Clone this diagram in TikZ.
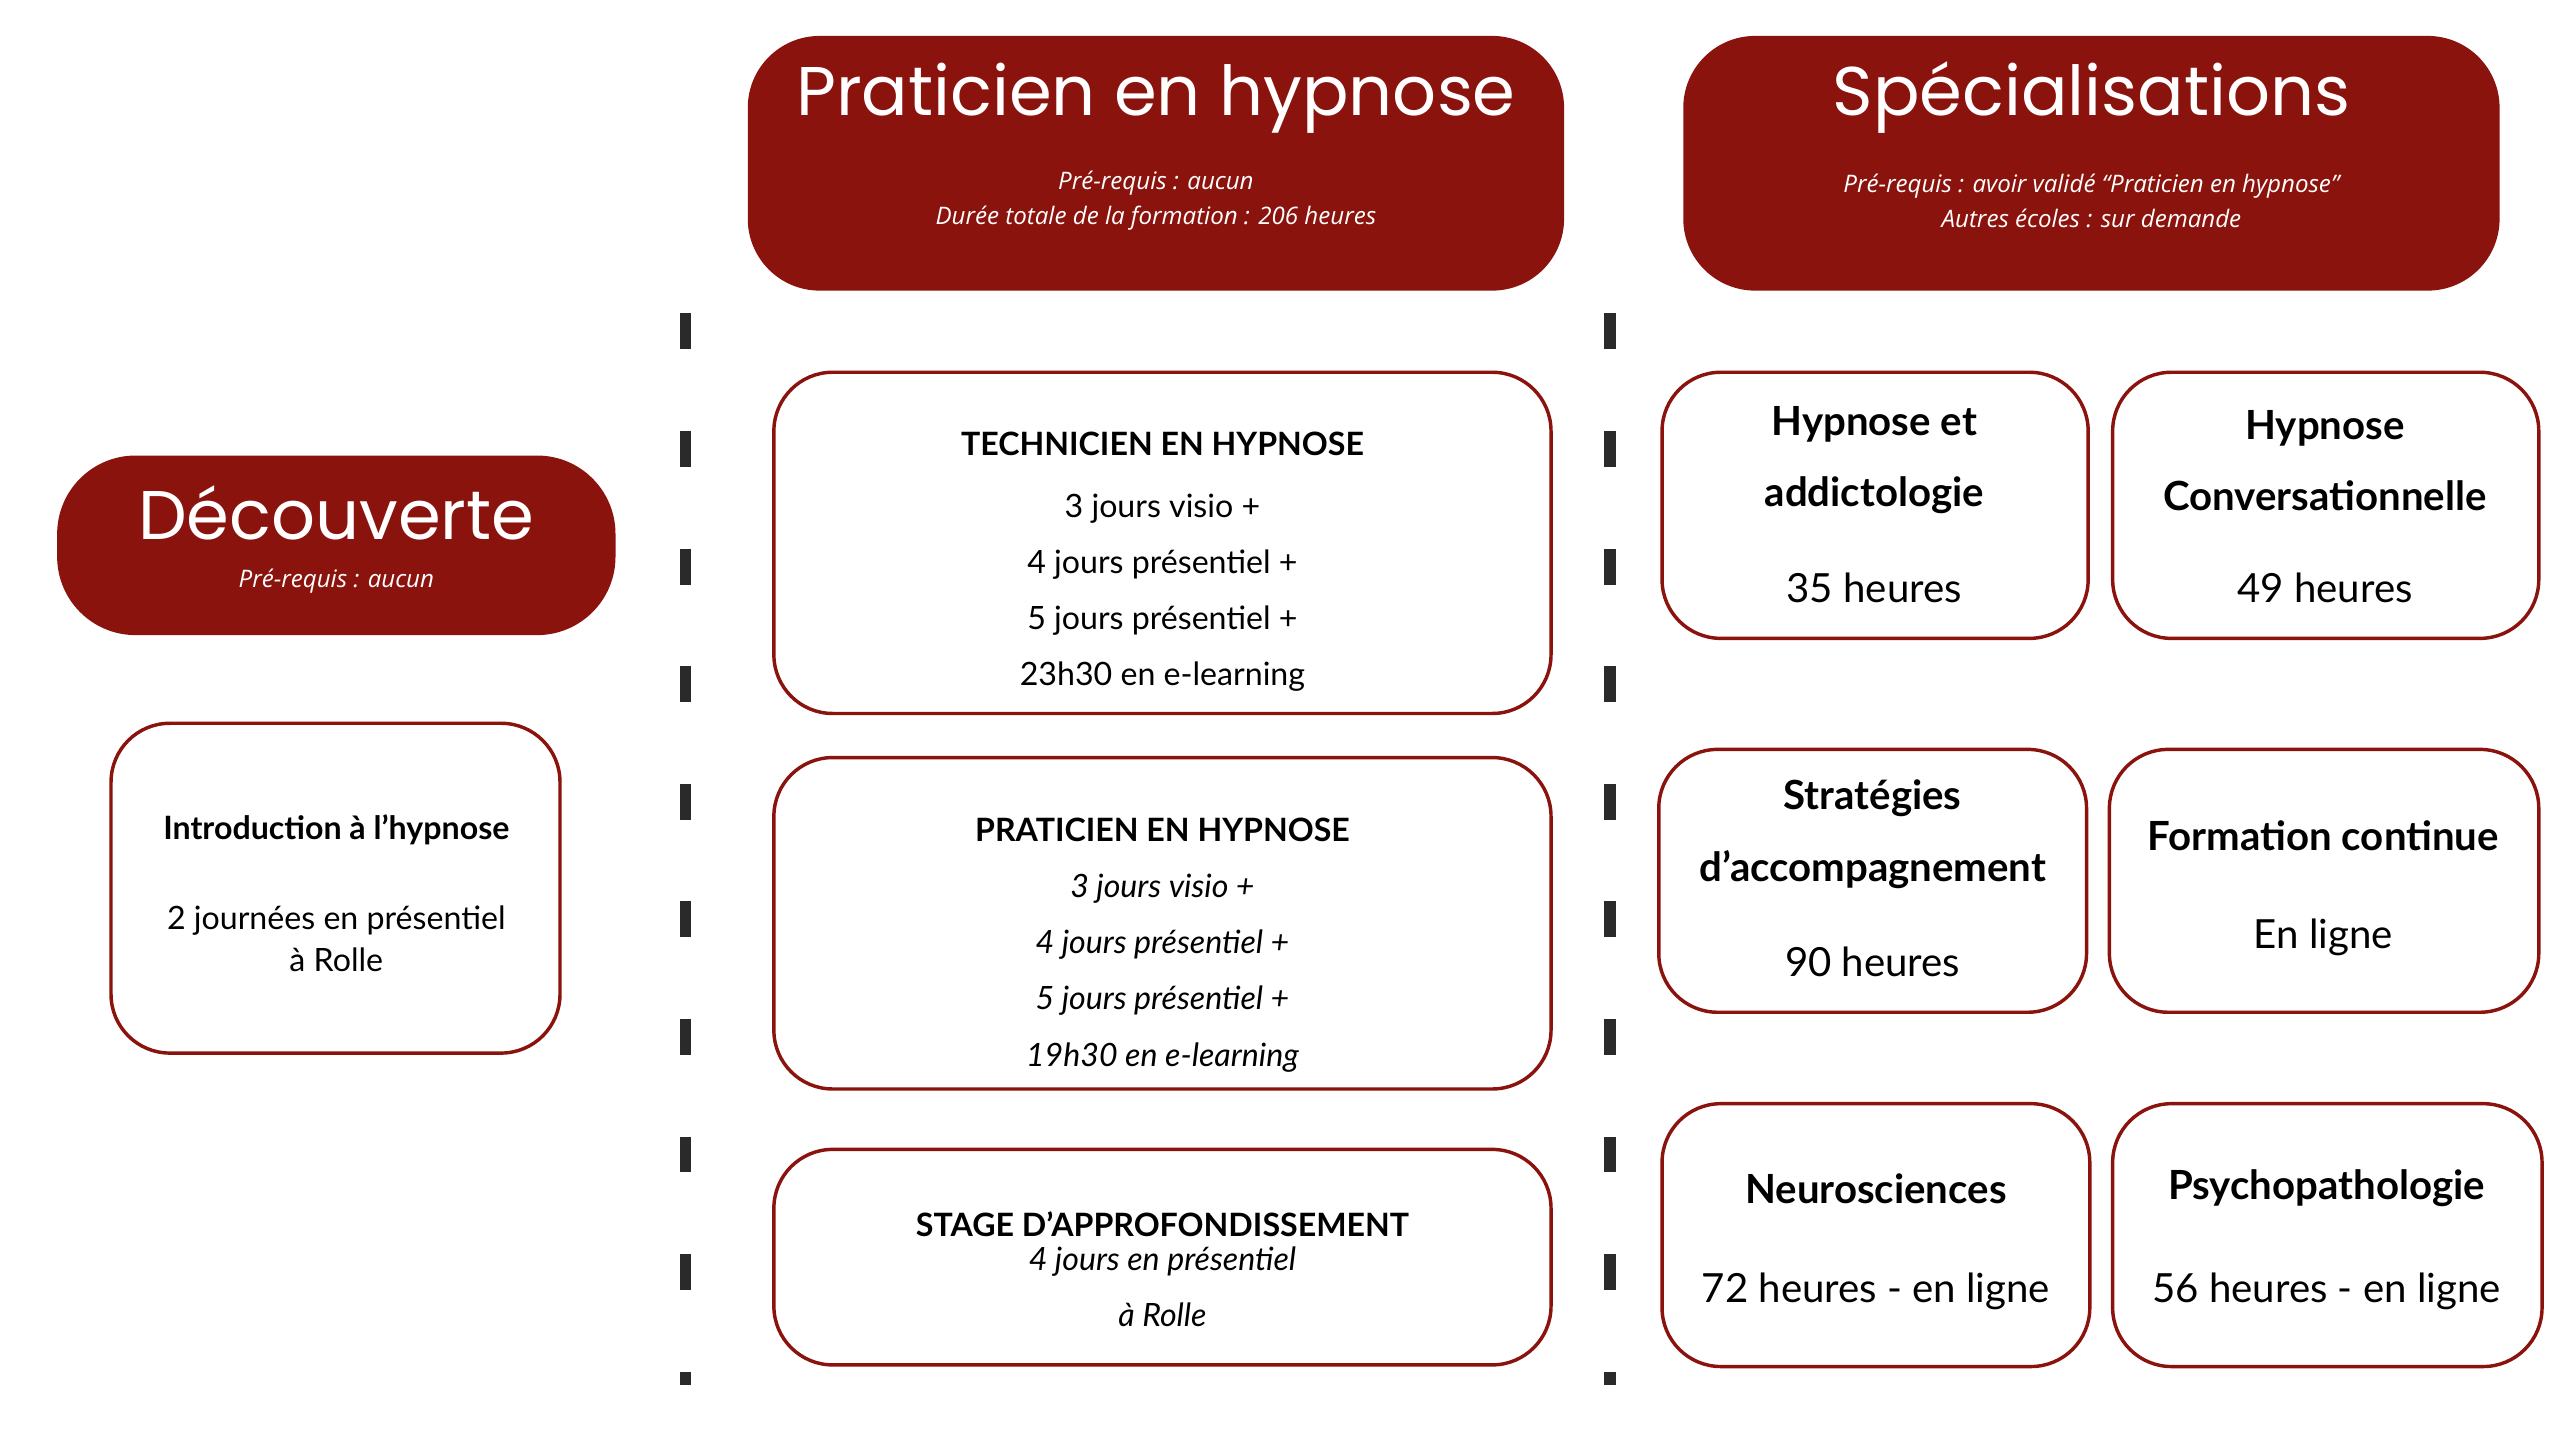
\documentclass[tikz,border=0pt]{standalone}
\usepackage{fontspec}
\setmainfont{Lato}
\newfontfamily\hfont{Poppins}
\newfontfamily\sfont{Open Sans}
\definecolor{dred}{HTML}{8B130E}
\definecolor{dgray}{HTML}{2A2A2A}
\begin{document}
\begin{tikzpicture}[x=0.025cm,y=-0.025cm,
 hdr/.style={fill=dred,draw=none,rounded corners=1.1cm},
 wbox/.style={draw=dred,line width=1.5pt,fill=white,rounded corners=0.9cm},
 htxt/.style={text=white,font=\hfont\fontsize{30}{34}\selectfont},
 stxt/.style={text=white,font=\sfont\itshape\fontsize{10.5}{15}\selectfont,align=center},
 btit/.style={font=\bfseries\fontsize{14}{18}\selectfont,align=center},
 body/.style={font=\fontsize{14}{18.5}\selectfont,align=center},
 ibody/.style={font=\itshape\fontsize{14}{18.5}\selectfont,align=center},
 stit/.style={font=\bfseries\fontsize{17.5}{24}\selectfont,align=center},
 sbody/.style={font=\fontsize{17.5}{22}\selectfont,align=center},
 dashline/.style={draw=dgray,line width=5pt,dash pattern=on 0.55cm off 1.25cm}]
\useasboundingbox (0,0) rectangle (1568,889);
% headers
\draw[hdr] (458,22) rectangle (958,178);
\node[htxt] (h1) at (708,60) {Praticien en hypnose};
\node[stxt] (h1s) at (708,123) {Pré-requis : aucun\\Durée totale de la formation : 206 heures};
\draw[hdr] (1031,22) rectangle (1531,178);
\node[htxt] (h2) at (1281,60) {Spécialisations};
\node[stxt] (h2s) at (1281,123) {Pré-requis : avoir validé “Praticien en hypnose”\\Autres écoles : sur demande};
\draw[hdr,rounded corners=1.2cm] (35,279) rectangle (377,389);
\node[htxt] (h3) at (206,314) {Découverte};
\node[stxt] (h3s) at (206,356) {Pré-requis : aucun};
% dashed lines
\coordinate (d1a) at (420,192); \coordinate (d1b) at (420,848);
\coordinate (d2a) at (986,192); \coordinate (d2b) at (986,848);
\draw[dashline] (d1a) -- (d1b);
\draw[dashline] (d2a) -- (d2b);
% intro
\draw[wbox] (68,443) rectangle (343,645);
\node[btit] (i1) at (206,508) {Introduction à l’hypnose};
\node[body] (i2) at (206,575) {2 journées en présentiel\\à Rolle};
% middle
\draw[wbox] (474,228) rectangle (950,437);
\node[btit] (t1) at (712,272) {TECHNICIEN EN HYPNOSE};
\node[body,font=\fontsize{14}{24.5}\selectfont] (t2) at (712,363) {3 jours visio +\\4 jours présentiel +\\5 jours présentiel +\\23h30 en e-learning};
\draw[wbox] (474,464) rectangle (950,667);
\node[btit] (p1) at (712,508) {PRATICIEN EN HYPNOSE};
\node[ibody,font=\itshape\fontsize{14}{24.5}\selectfont] (p2) at (712,596) {3 jours visio +\\4 jours présentiel +\\5 jours présentiel +\\19h30 en e-learning};
\draw[wbox] (474,704) rectangle (950,836);
\node[btit] (s1) at (712,750) {STAGE D’APPROFONDISSEMENT};
\node[ibody,font=\itshape\fontsize{14}{24.5}\selectfont] (s2) at (712,788) {4 jours en présentiel\\à Rolle};
% specialisations
\draw[wbox] (1018,228) rectangle (1279,391);
\node[stit,font=\bfseries\fontsize{17.5}{31}\selectfont] (a1) at (1148,282) {Hypnose et\\addictologie};
\node[sbody] (a2) at (1148,360) {35 heures};
\draw[wbox] (1294,228) rectangle (1555,391);
\node[stit,font=\bfseries\fontsize{17.5}{31}\selectfont] (b1) at (1424,282) {Hypnose\\Conversationnelle};
\node[sbody] (b2) at (1424,360) {49 heures};
\draw[wbox] (1016,459) rectangle (1278,620);
\node[stit,font=\bfseries\fontsize{17.5}{31}\selectfont] (c1) at (1147,511) {Stratégies\\d’accompagnement};
\node[sbody] (c2) at (1147,589) {90 heures};
\draw[wbox] (1292,459) rectangle (1555,620);
\node[stit] (e1) at (1423,512) {Formation continue};
\node[sbody] (e2) at (1423,574) {En ligne};
\draw[wbox] (1018,676) rectangle (1280,837);
\node[stit] (f1) at (1149,728) {Neurosciences};
\node[sbody] (f2) at (1149,791) {72 heures - en ligne};
\draw[wbox] (1294,676) rectangle (1557,837);
\node[stit] (g1) at (1425,728) {Psychopathologie};
\node[sbody] (g2) at (1425,791) {56 heures - en ligne};
\end{tikzpicture}
\end{document}
